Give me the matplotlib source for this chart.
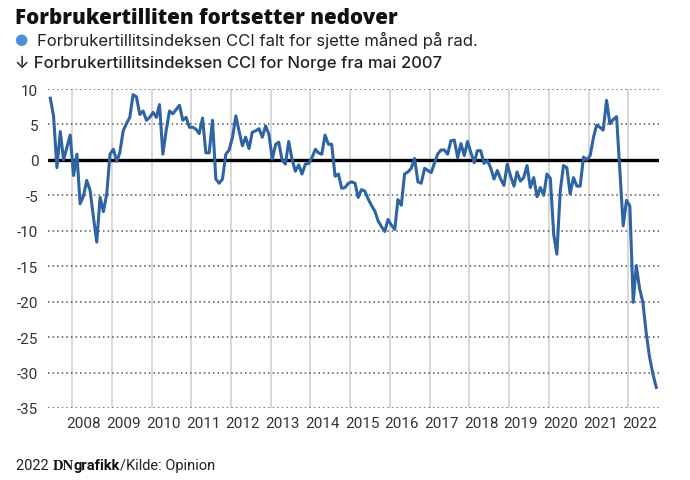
"""
Forbrukertillitsindeksen CCI (Opinion), monthly from 2007
"""
import pandas as pd
import matplotlib.pyplot as plt

# monthly index values
cci = [
    8.7, 6.2, -1.1, 4.0, 0.0, 1.8, 3.5, -2.2, 0.8, -6.2, -5.1, -2.9,
    -4.3, -8.0, -11.6, -5.3, -7.3, -4.8, 0.8, 1.5, -0.2, 1.0, 4.1, 5.1,
    6.0, 9.2, 8.9, 6.4, 6.9, 5.6, 6.0, 6.7, 6.0, 7.8, 0.8, 4.1,
    6.9, 6.5, 7.1, 7.7, 5.6, 6.0, 4.6, 4.6, 4.3, 3.7, 5.9, 1.0,
    1.0, 5.6, -2.7, -3.3, -2.7, 0.8, 1.4, 3.2, 6.2, 4.1, 2.0, 3.2,
    1.6, 3.9, 4.1, 4.4, 3.2, 4.8, 3.6, 0.1, 2.2, 2.5, 0.0, -0.6,
    2.6, 0.1, -1.6, -0.7, -2.0, -0.6, -0.5, 0.3, 1.5, 1.0, 0.8, 3.5,
    2.2, 2.2, -2.3, -2.0, -4.0, -3.9, -3.3, -3.1, -3.3, -5.3, -4.2, -4.4,
    -5.5, -6.4, -7.2, -8.6, -9.4, -10.1, -8.4, -9.2, -9.8, -5.6, -6.4, -2.0,
    -1.7, -1.2, 0.2, -3.1, -3.3, -1.2, -1.5, -1.8, -0.4, 0.8, 1.4, 1.4,
    0.8, 2.7, 2.8, 0.3, 2.3, 0.6, 2.6, 1.0, -0.4, 1.3, 1.3, -0.5,
    -0.1, -1.1, -2.7, -1.5, -2.7, -3.6, -0.6, -2.3, -3.7, -1.7, -3.0, -2.5,
    -0.8, -3.9, -2.5, -5.2, -3.9, -5.0, -2.0, -2.6, -10.5, -13.3, -4.4, -0.8,
    -1.1, -4.8, -2.5, -3.7, -3.7, 0.4, 0.0, 0.6, 3.2, 4.9, 4.6, 4.2,
    8.4, 5.1, 5.7, 6.1, -1.5, -9.3, -5.7, -6.5, -20.1, -14.9, -18.2, -20.1,
    -24.5, -27.8, -30.2, -32.1,
]
years = list(range(2008, 2023))
y_ticks = [10, 5, 0, -5, -10, -15, -20, -25, -30, -35]

months = pd.date_range('2007-06-15', periods=len(cci), freq=pd.DateOffset(months=1))

line_color = '#2f64a3'
dot_color = '#4a90d9'
text_color = '#222222'
narrow = ['Liberation Sans Narrow', 'Roboto', 'DejaVu Sans']

fig = plt.figure(figsize=(6.9, 4.81), dpi=100)
ax = fig.add_axes([48 / 690, 72 / 481, 611 / 690, 319 / 481])

# year separators
for y in years:
    ax.axvline(pd.Timestamp(f'{y}-01-01'), color='#d6d6d6', lw=1.3, zorder=1)
# dotted horizontal grid
for v in y_ticks:
    if v != 0:
        ax.axhline(v, color='#555555', lw=1.1, ls=(0, (1, 2)), zorder=2)
ax.axhline(0, color='black', lw=2.4, zorder=3)

ax.plot(months, cci, color=line_color, lw=2.2, zorder=4, solid_joinstyle='round')

ax.set_xlim(pd.Timestamp('2007-05-25'), pd.Timestamp('2022-10-10'))
ax.set_ylim(-35, 10)

ax.set_yticks(y_ticks)
ax.set_yticklabels([str(v) for v in y_ticks])
ax.set_xticks([pd.Timestamp(f'{y}-04-20') for y in years])
ax.set_xticklabels([str(y) for y in years])
ax.tick_params(axis='both', length=0, colors='#333333', labelsize=11)
ax.tick_params(axis='y', pad=7)
ax.tick_params(axis='x', pad=6)
for lab in ax.get_xticklabels() + ax.get_yticklabels():
    lab.set_family(narrow)
for s in ax.spines.values():
    s.set_visible(False)

# header
fig.text(15 / 690, 1 - 24.5 / 481, 'Forbrukertilliten fortsetter nedover',
         family=['Open Sans', 'DejaVu Sans'], weight=800, fontsize=14.8,
         color='#111111', va='baseline')
fig.text(14 / 690, 1 - 40 / 481, '●', family='DejaVu Sans', fontsize=11,
         color=dot_color, va='center')
fig.text(37 / 690, 1 - 45.7 / 481,
         'Forbrukertillitsindeksen CCI falt for sjette måned på rad.',
         family=['Inter', 'DejaVu Sans'], fontsize=12, color=text_color,
         va='baseline')
fig.text(15 / 690, 1 - 68.3 / 481,
         '↓ Forbrukertillitsindeksen CCI for Norge fra mai 2007',
         family=['Inter', 'DejaVu Sans'], fontsize=12, color=text_color,
         weight='medium', va='baseline')

# footer pieces placed one after another
t1 = fig.text(16 / 690, 1 - 470 / 481, '2022 ', family=narrow, fontsize=10.5,
              color=text_color, va='baseline')
t2 = fig.text(0, 0, 'DN', family=['Liberation Serif', 'DejaVu Serif'],
              weight='bold', fontsize=10.5, color='#111111', va='baseline')
t3 = fig.text(0, 0, 'grafikk', family=narrow, weight='bold', fontsize=10.5,
              color='#111111', va='baseline')
t4 = fig.text(0, 0, '/Kilde: Opinion', family=narrow, fontsize=10.5,
              color=text_color, va='baseline')
fig.canvas.draw()
r = fig.canvas.get_renderer()
prev = t1
for t in (t2, t3, t4):
    bb = prev.get_window_extent(r)
    x0 = bb.x1 / fig.bbox.width
    t.set_position((x0, prev.get_position()[1]))
    fig.canvas.draw()
    prev = t

fig.savefig('out.png', dpi=100)
